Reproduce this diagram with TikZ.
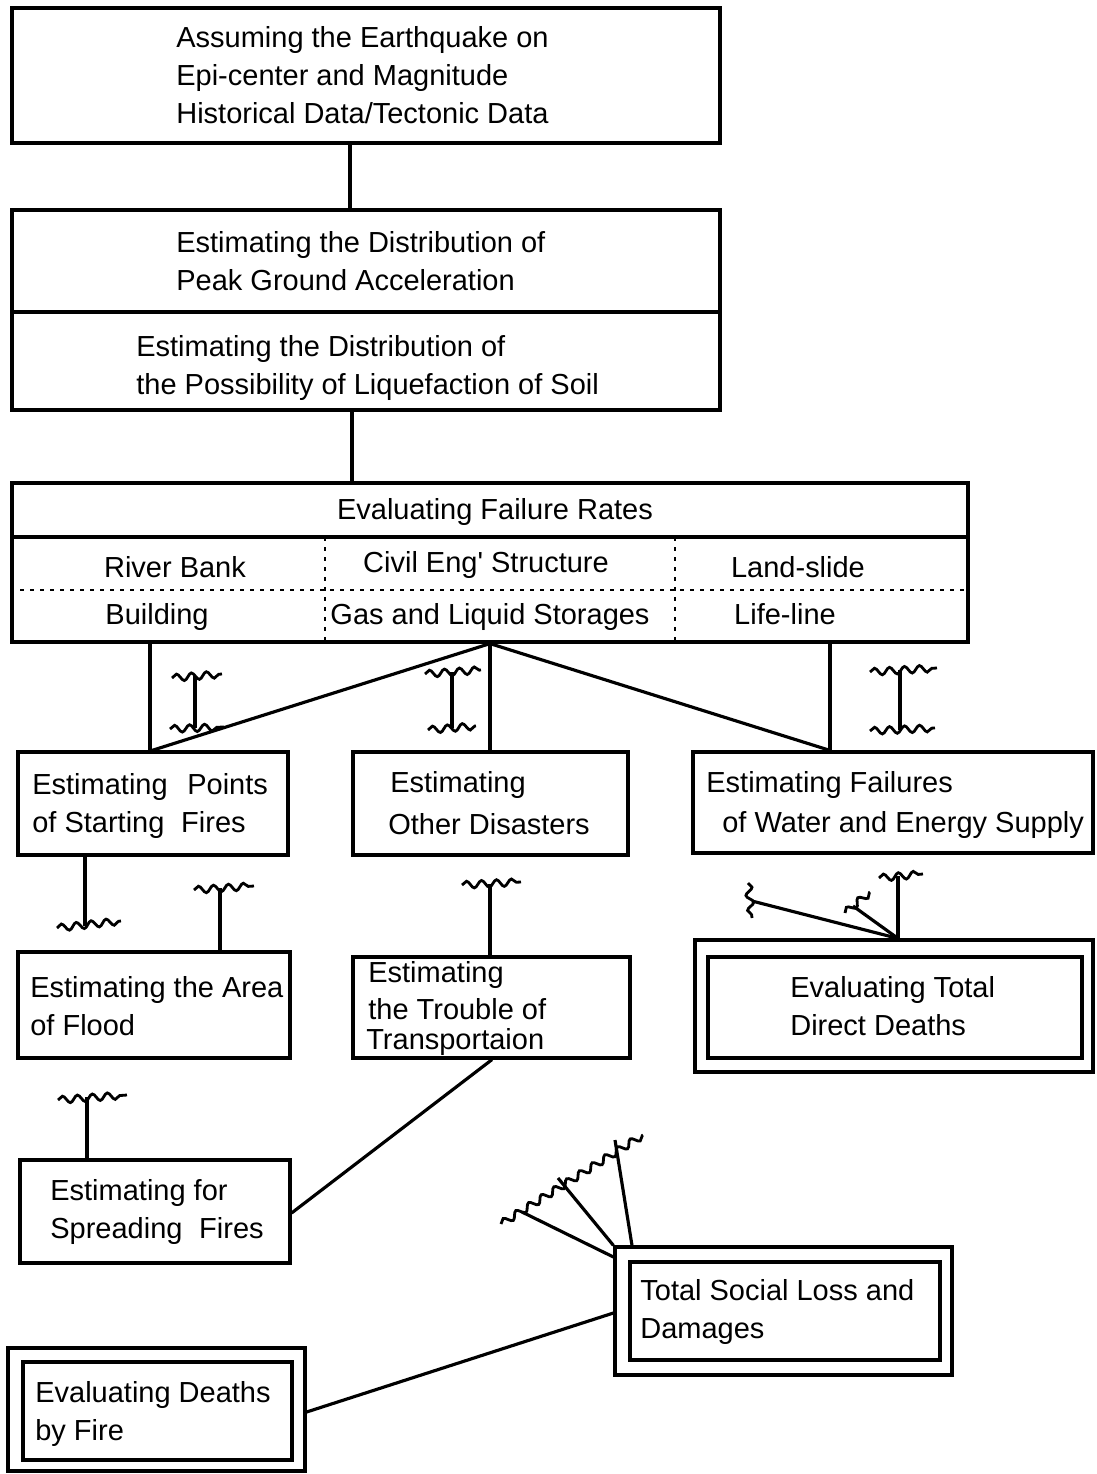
\documentclass[tikz,border=0pt]{standalone}
\usepackage{fontspec}
\setmainfont{Liberation Sans}
\usetikzlibrary{decorations.pathmorphing,fit}
\begin{document}
\begin{tikzpicture}[x=0.02cm,y=-0.02cm,
  box/.style={draw, line width=1.8pt, inner sep=0pt},
  txt/.style={inner sep=0pt, anchor=base west, align=left, font=\fontsize{16.5}{21.6}\selectfont},
  ctxt/.style={txt, anchor=base},
  link/.style={line width=1.8pt},
  dotln/.style={line width=1.3pt, dash pattern=on 0.08cm off 0.12cm},
  wavy/.style={line width=1.6pt, decorate, decoration={snake, segment length=0.3cm, amplitude=0.07cm}},
]
\useasboundingbox (0,0) rectangle (1096,1474);

% ---------- boxes ----------
\node[box, fit={(12,8) (720,143)}] (b1) {};
\node[box, fit={(12,210) (720,410)}] (b2) {};
\node[box, fit={(12,483) (968,642)}] (fr) {};
\node[box, fit={(18,752) (288,855)}] (sf) {};
\node[box, fit={(353,752) (628,855)}] (od) {};
\node[box, fit={(693,752) (1093,853)}] (ws) {};
\node[box, fit={(18,952) (290,1058)}] (fl) {};
\node[box, fit={(353,957) (630,1058)}] (tr) {};
\node[box, fit={(695,940) (1093,1072)}] (dd) {};
\node[box, fit={(708,957) (1082,1058)}] (ddi) {};
\node[box, fit={(20,1160) (290,1263)}] (sp) {};
\node[box, fit={(615,1247) (952,1375)}] (sl) {};
\node[box, fit={(630,1262) (940,1360)}] (sli) {};
\node[box, fit={(8,1348) (305,1471)}] (df) {};
\node[box, fit={(23,1362) (292,1460)}] (dfi) {};

% inner dividers
\draw[link] (b2.west |- 0,312) -- (b2.east |- 0,312);
\draw[link] (fr.west |- 0,537) -- (fr.east |- 0,537);
\draw[dotln] (fr.west |- 0,590) -- (fr.east |- 0,590);
\draw[dotln] (325,537) -- (fr.south -| 325,0);
\draw[dotln] (675,537) -- (fr.south -| 675,0);

% ---------- texts (multi-line nodes: base = last line) ----------
\node[txt] (t1) at (176,123) {Assuming the Earthquake on\\Epi-center and Magnitude\\Historical Data/Tectonic Data};
\node[txt] (t2) at (176,290) {Estimating the Distribution of\\Peak Ground Acceleration};
\node[txt] (t3) at (136,394) {Estimating the Distribution of\\the Possibility of Liquefaction of Soil};
\node[ctxt] (t4) at (495,519) {Evaluating Failure Rates};
\node[ctxt] (t5) at (175,577) {River Bank};
\node[ctxt] (t6) at (486,572) {Civil Eng\textquotesingle\ Structure};
\node[ctxt] (t7) at (798,577) {Land-slide};
\node[ctxt] (t8) at (157,624) {Building};
\node[ctxt] (t9) at (490,624) {Gas and Liquid Storages};
\node[ctxt] (t10) at (785,624) {Life-line};
\node[txt] (t11) at (32,832) {Estimating\hspace{0.4em} Points\\of Starting\hspace{0.3em} Fires};
\node[txt] (t12) at (390,792) {Estimating};
\node[txt] (t13) at (388,834) {Other Disasters};
\node[txt] (t14) at (706,792) {Estimating Failures};
\node[txt] (t15) at (722,832) {of Water and Energy Supply};
\node[txt] (t16) at (30,1035) {Estimating the Area\\of Flood};
\node[txt] (t17) at (368,982) {Estimating};
\node[txt] (t18) at (368,1019) {the Trouble of};
\node[txt] (t19) at (366,1049) {Transportaion};
\node[txt] (t20) at (790,1035) {Evaluating Total\\Direct Deaths};
\node[txt] (t21) at (50,1238) {Estimating for\\Spreading\hspace{0.3em} Fires};
\node[txt] (t22) at (640,1338) {Total Social Loss and\\Damages};
\node[txt] (t23) at (35,1440) {Evaluating Deaths\\by Fire};

% ---------- connectors ----------
\draw[link] (b1.south -| 350,0) -- (b2.north -| 350,0);
\draw[link] (b2.south -| 352,0) -- (fr.north -| 352,0);
\draw[link] (fr.south -| 150,0) -- (sf.north -| 150,0);
\draw[link] (fr.south -| 490,0) -- (od.north -| 490,0);
\draw[link] (fr.south -| 830,0) -- (ws.north -| 830,0);
\draw[link] (fr.south -| 490,0) -- (sf.north -| 152,0);
\draw[link] (fr.south -| 490,0) -- (ws.north -| 830,0);
\draw[link] (tr.south -| 492,0) -- (sp.east |- 0,1213);
\draw[link] (df.east |- 0,1412) -- (sl.west |- 0,1313);

% ---------- break symbols ----------
\coordinate (i1a) at (195,676); \coordinate (i1b) at (195,728);
\draw[link] (i1a) -- (i1b);
\draw[wavy] (172,678) -- (222,674);
\draw[wavy] (170,729) -- (224,727);
\coordinate (i2a) at (452,672); \coordinate (i2b) at (452,728);
\draw[link] (i2a) -- (i2b);
\draw[wavy] (425,674) -- (481,670);
\draw[wavy] (428,730) -- (476,726);
\coordinate (i3a) at (900,670); \coordinate (i3b) at (900,730);
\draw[link] (i3a) -- (i3b);
\draw[wavy] (870,672) -- (937,668);
\draw[wavy] (870,731) -- (935,728);

% T-shaped breaks attached to boxes
\coordinate (c1) at (85,926);
\draw[link] (sf.south -| c1) -- (c1);
\draw[wavy] (57,928) -- (121,921);
\coordinate (c2) at (220,888);
\draw[link] (c2) -- (fl.north -| c2);
\draw[wavy] (194,890) -- (254,886);
\coordinate (c3) at (490,884);
\draw[link] (c3) -- (tr.north -| c3);
\draw[wavy] (462,885) -- (521,882);
\coordinate (c4) at (87,1097);
\draw[link] (c4) -- (sp.north -| c4);
\draw[wavy] (58,1100) -- (127,1095);
\coordinate (c5) at (898,876);
\draw[link] (c5) -- (dd.north -| c5);
\draw[wavy] (879,878) -- (923,874);
\coordinate (c6) at (853,906);
\draw[link] (dd.north -| c5) -- (c6);
\draw[wavy] (845,913) -- (870,892);
\coordinate (c7) at (752,901);
\draw[link] (dd.north -| c5) -- (c7);
\draw[wavy] (748,883) -- (752,918);

% fan on Total Social Loss
\coordinate (f1) at (522,1212);
\coordinate (f2) at (558,1178);
\coordinate (f3) at (615,1140);
\draw[link] (sl.west |- 0,1257) -- (f1);
\draw[link] (sl.north west) -- (f2);
\draw[link] (sl.north -| 632,0) -- (f3);
\draw[wavy] (501,1224) -- (643,1135);
\end{tikzpicture}
\end{document}
